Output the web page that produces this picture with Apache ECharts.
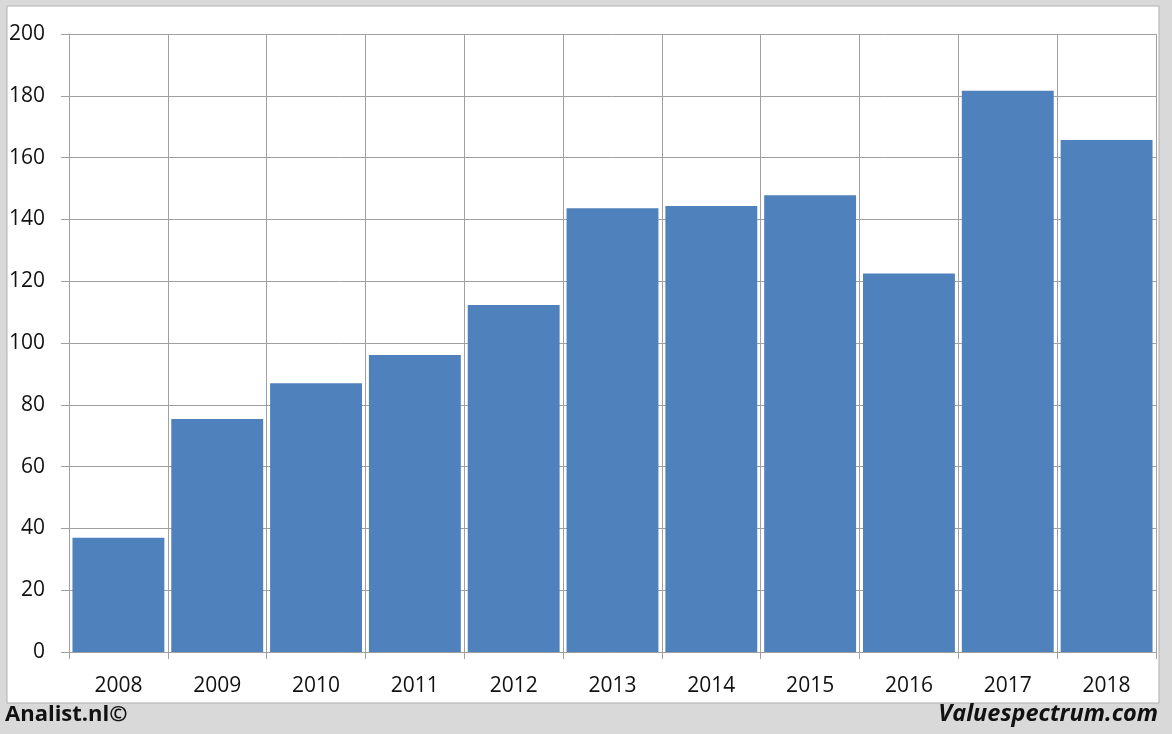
<!DOCTYPE html>
<html><head><meta charset="utf-8">
<script src="https://cdn.jsdelivr.net/npm/echarts@6/dist/echarts.min.js"></script>
<style>html,body{margin:0;padding:0;background:#d9d9d9}#c{width:1172px;height:734px}</style>
</head><body><div id="c"></div>
<script>
const categories = ['2008','2009','2010','2011','2012','2013','2014','2015','2016','2017','2018'];
const values = [37, 75.4, 87, 96.1, 112.3, 143.6, 144.3, 147.8, 122.5, 181.6, 165.7];
const yTicks = [0, 20, 40, 60, 80, 100, 120, 140, 160, 180, 200];

const chart = echarts.init(document.getElementById('c'), null, {renderer:'canvas'});
const font = '"Open Sans", "Liberation Sans", sans-serif';
chart.setOption({
  backgroundColor: '#d9d9d9',
  animation: false,
  graphic: [
    {type:'rect', z:-10, shape:{x:7, y:6, width:1152, height:697}, style:{fill:'#ffffff', stroke:'#b0b0b0', lineWidth:1}},
    {type:'text', left:5, top:704, style:{text:'Analist.nl©', font:'bold 22px ' + font, fill:'#111'}},
    {type:'text', right:14, top:703, style:{text:'Valuespectrum.com', font:'italic bold 23.5px ' + font, fill:'#111'}}
  ],
  grid: {left:69, right:16, top:34, bottom:82},
  xAxis: {
    type:'category', data: categories,
    axisLine:{show:true, lineStyle:{color:'#a0a0a0', width:1}},
    axisTick:{show:true, length:7, lineStyle:{color:'#a0a0a0'}},
    splitLine:{show:true, lineStyle:{color:'#a0a0a0', width:1}},
    axisLabel:{color:'#111', fontSize:21, fontFamily:font, margin:24}
  },
  yAxis: {
    type:'value', min:0, max:200, interval:20,
    axisLine:{show:true, lineStyle:{color:'#a0a0a0'}},
    axisTick:{show:true, length:8, lineStyle:{color:'#a0a0a0'}},
    splitLine:{show:true, lineStyle:{color:'#a0a0a0', width:1}},
    axisLabel:{color:'#111', fontSize:21, fontFamily:font, margin:24,
      formatter: v => yTicks.includes(v) ? String(v) : ''}
  },
  series: [{
    type:'bar', data: values, barCategoryGap:'7%',
    itemStyle:{color:'#4f81bd'}
  }]
});
</script></body></html>
